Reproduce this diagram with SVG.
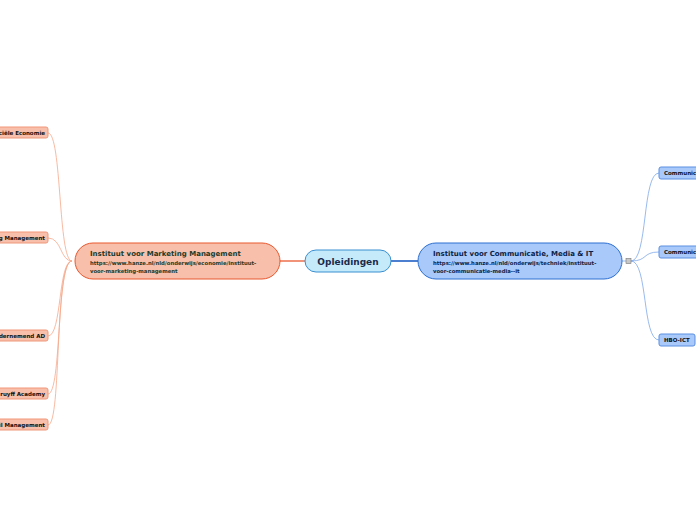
<svg xmlns="http://www.w3.org/2000/svg" width="696" height="520" viewBox="0 0 696 520">
<style>
text{font-family:"DejaVu Sans","Verdana",sans-serif;font-weight:bold}
.lc{fill:#f8bfab;stroke:#f0977a;stroke-width:1}
.rc{fill:#a9c9fb;stroke:#5a8fe0;stroke-width:1}
.ct{font-size:5.5px;fill:#111}
.lw{fill:none;stroke:#f5a88c;stroke-width:0.8}
.rw{fill:none;stroke:#7fa8ea;stroke-width:0.8}
.url{font-size:5.3px}
</style>
<rect width="696" height="520" fill="#ffffff"/>
<g id="connectors">
<line x1="280" y1="261" x2="305" y2="261" stroke="#e8582f" stroke-width="1.3"/>
<line x1="391" y1="261" x2="418" y2="261" stroke="#1f5fc4" stroke-width="1.6"/>
<path class="lw" d="M72,261 C58,261 62,133 48,133"/>
<path class="lw" d="M72,261 C60,261 62,238 48,238"/>
<path class="lw" d="M72,261 C58,261 62,336 48,336"/>
<path class="lw" d="M72,261 C56,261 62,394 48,394"/>
<path class="lw" d="M72,261 C54,261 62,425 48,425"/>
<line x1="622" y1="261" x2="626" y2="261" stroke="#7fa8ea" stroke-width="0.8"/>
<path class="rw" d="M631,261 C648,261 642,173 659,173"/>
<path class="rw" d="M631,261 C648,261 642,252 659,252"/>
<path class="rw" d="M631,261 C648,261 642,340 659,340"/>
<rect x="626" y="258.5" width="5" height="5" fill="#c8c8c8" stroke="#777" stroke-width="0.6"/>
</g>
<g id="central">
<rect x="305" y="250" width="86" height="22" rx="11" fill="#c5ebfb" stroke="#3a8fd0" stroke-width="1"/>
<text x="348" y="264.5" text-anchor="middle" font-size="9" fill="#1b2a4a">Opleidingen</text>
</g>
<g id="marketing">
<rect x="75" y="243" width="205" height="36" rx="18" fill="#f8bfab" stroke="#e8582f" stroke-width="1"/>
<text x="90" y="256" font-size="7" fill="#1c3b2a">Instituut voor Marketing Management</text>
<text class="url" x="90" y="264.5" fill="#1c3b2a">https://www.hanze.nl/nld/onderwijs/economie/instituut-</text>
<text class="url" x="90" y="273" fill="#1c3b2a">voor-marketing-management</text>
</g>
<g id="communicatie">
<rect x="418" y="243" width="204" height="36" rx="18" fill="#a9c9fb" stroke="#2c6fd0" stroke-width="1"/>
<text x="433" y="256" font-size="7" fill="#0d1f45">Instituut voor Communicatie, Media &amp; IT</text>
<text class="url" x="433" y="264.5" fill="#0d1f45">https://www.hanze.nl/nld/onderwijs/techniek/instituut-</text>
<text class="url" x="433" y="273" fill="#0d1f45">voor-communicatie-media--it</text>
</g>
<g id="l1"><rect class="lc" x="-20" y="127" width="68" height="11" rx="2"/><text class="ct" x="45" y="134.5" text-anchor="end">ciële Economie</text></g>
<g id="l2"><rect class="lc" x="-20" y="232" width="68" height="11" rx="2"/><text class="ct" x="45" y="239.5" text-anchor="end">g Management</text></g>
<g id="l3"><rect class="lc" x="-20" y="330" width="68" height="11" rx="2"/><text class="ct" x="45" y="337.5" text-anchor="end">dernemend AD</text></g>
<g id="l4"><rect class="lc" x="-20" y="388" width="68" height="11" rx="2"/><text class="ct" x="45" y="395.5" text-anchor="end">ruyff Academy</text></g>
<g id="l5"><rect class="lc" x="-20" y="419" width="68" height="11" rx="2"/><text class="ct" x="45" y="426.5" text-anchor="end">il Management</text></g>
<g id="r1"><rect class="rc" x="659" y="167" width="60" height="12" rx="2"/><text class="ct" x="664" y="175">Communic</text></g>
<g id="r2"><rect class="rc" x="659" y="246" width="60" height="12" rx="2"/><text class="ct" x="664" y="254">Communic</text></g>
<g id="r3"><rect class="rc" x="659" y="334" width="36" height="12" rx="2"/><text class="ct" x="664" y="342">HBO-ICT</text></g>
</svg>
